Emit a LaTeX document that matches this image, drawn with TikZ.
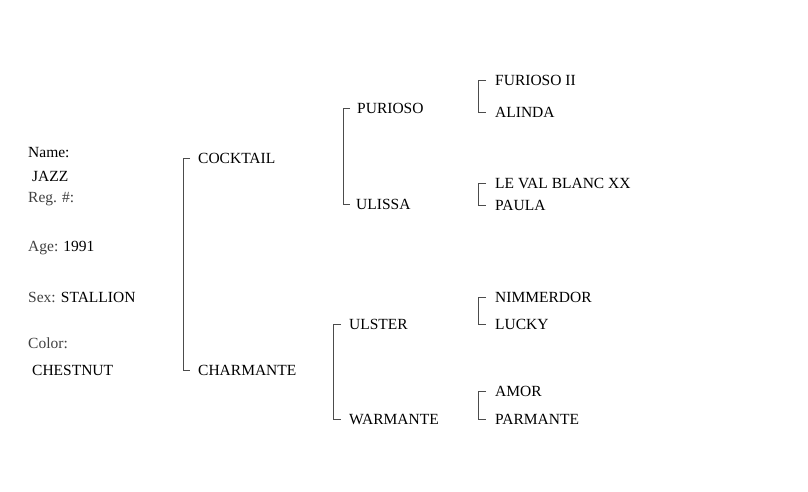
\documentclass[tikz,border=0pt]{standalone}
\usepackage{fontspec}
\setmainfont{Liberation Serif}
\usetikzlibrary{positioning, calc}

\begin{document}
\begin{tikzpicture}[x=1pt, y=-1pt,
		Horse/.style={anchor=west, inner sep=0pt, font=\fontsize{15.5}{17}\selectfont},
		Info/.style={anchor=west, inner sep=0pt, font=\fontsize{15.5}{17}\selectfont, text=black!75},
		Bracket/.style={draw=black!70, line width=0.8pt}
	]
	\useasboundingbox (0,0) rectangle (808,491);
	% info column
	\node (name)  [Info, text=black] at (28,153) {Name:};
	\node (jazz)  [Horse] at (32,176) {JAZZ};
	\node (reg)   [Info] at (28,199) {Reg. \#:};
	\node (age)   [Info] at (28,248) {Age: \textcolor{black}{1991}};
	\node (sex)   [Info] at (28,297) {Sex: \textcolor{black}{STALLION}};
	\node (color) [Info] at (28,343) {Color:};
	\node (chest) [Horse] at (32,370) {CHESTNUT};
	% parents
	\node (cocktail)  [Horse] at (198,158) {COCKTAIL};
	\node (charmante) [Horse] at (198,370) {CHARMANTE};
	% grandparents
	\node (purioso)  [Horse] at (357,108) {PURIOSO};
	\node (ulissa)   [Horse] at (356,204) {ULISSA};
	\node (ulster)   [Horse] at (349,324) {ULSTER};
	\node (warmante) [Horse] at (349,419) {WARMANTE};
	% great-grandparents
	\node (furioso) [Horse] at (495,80)  {FURIOSO II};
	\node (alinda)  [Horse] at (495,112) {ALINDA};
	\node (valblanc)[Horse] at (495,183) {LE VAL BLANC XX};
	\node (paula)   [Horse] at (495,205) {PAULA};
	\node (nimmer)  [Horse] at (495,297) {NIMMERDOR};
	\node (lucky)   [Horse] at (495,324) {LUCKY};
	\node (amor)    [Horse] at (495,391) {AMOR};
	\node (parmante)[Horse] at (495,419) {PARMANTE};
	% brackets
	\draw [Bracket] ($(cocktail.west)+(-8,0)$) -- ++(-7,0) |- ($(charmante.west)+(-8,0)$);
	\draw [Bracket] ($(purioso.west)+(-7,0)$) -- ++(-7,0) |- ($(ulissa.west)+(-6,0)$);
	\draw [Bracket] ($(ulster.west)+(-8,0)$) -- ++(-8,0) |- ($(warmante.west)+(-8,0)$);
	\draw [Bracket] ($(furioso.west)+(-9,0)$) -- ++(-8,0) |- ($(alinda.west)+(-9,0)$);
	\draw [Bracket] ($(valblanc.west)+(-9,0)$) -- ++(-8,0) |- ($(paula.west)+(-9,0)$);
	\draw [Bracket] ($(nimmer.west)+(-9,0)$) -- ++(-8,0) |- ($(lucky.west)+(-9,0)$);
	\draw [Bracket] ($(amor.west)+(-9,0)$) -- ++(-8,0) |- ($(parmante.west)+(-9,0)$);
\end{tikzpicture}
\end{document}
